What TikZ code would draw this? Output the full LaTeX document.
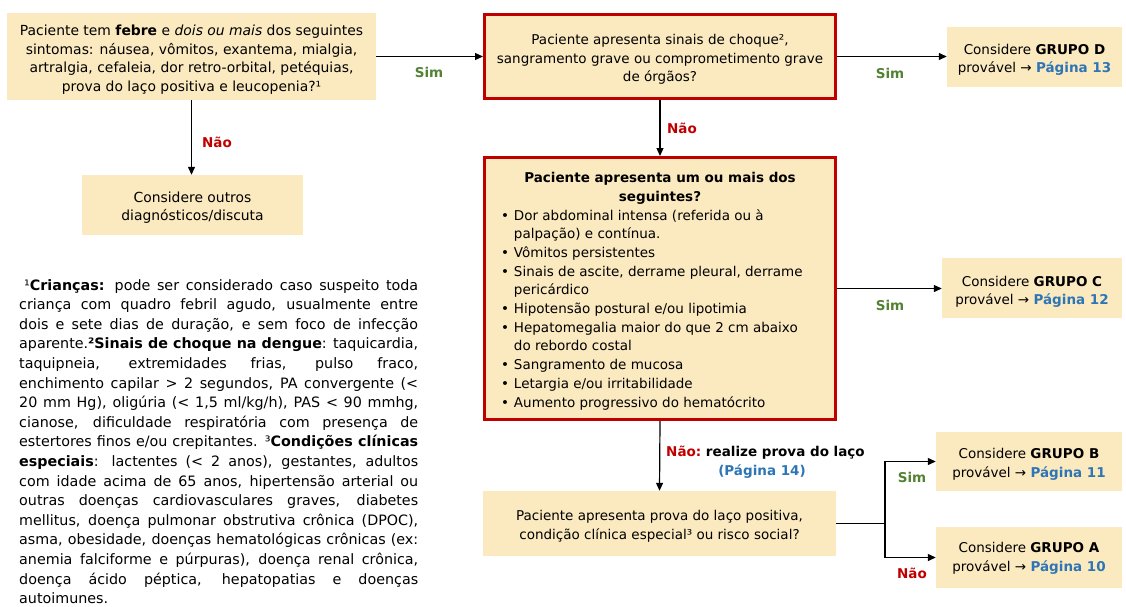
\documentclass[tikz,border=0pt]{standalone}
\usepackage{fontspec}
\setmainfont{DejaVu Sans}
\usetikzlibrary{arrows.meta}
\definecolor{boxfill}{RGB}{251,234,192}
\definecolor{redb}{RGB}{192,0,0}
\definecolor{greenl}{RGB}{84,130,53}
\definecolor{bluel}{RGB}{46,117,182}
\newcommand\myfs{\fontsize{13.5}{18.7}\selectfont}
\newcommand\bigfs{\fontsize{13.9}{18.8}\selectfont}
\newcommand\notefs{\fontsize{14.3}{19.6}\selectfont}
\newcommand\pg[1]{\textcolor{bluel}{\textbf{#1}}}
\newcommand\tup{\rule{0pt}{16pt}}
\begin{document}
\begin{tikzpicture}[x=1pt,y=-1pt,font=\myfs,
  ybox/.style={fill=boxfill,draw=none,inner sep=0pt,align=center},
  rbox/.style={ybox,draw=redb,line width=2.6pt},
  conn/.style={draw,line width=1.2pt,-{Triangle[length=8pt,width=7pt]}},
  plain/.style={draw,line width=1.2pt},
  lsim/.style={text=greenl,font=\myfs\bfseries,inner sep=0pt},
  lnao/.style={text=redb,font=\myfs\bfseries,inner sep=0pt}]
\useasboundingbox (0,0) rectangle (1126,606);
\fill[white] (0,0) rectangle (1126,606);

% boxes
\node[ybox,font=\bigfs,minimum width=369pt,minimum height=87pt] (q1) at (191.5,56.5)
 {\rule{0pt}{17pt}Paciente tem \textbf{febre} e \textit{dois ou mais} dos seguintes\\
  sintomas: náusea, vômitos, exantema, mialgia,\\
  artralgia, cefaleia, dor retro-orbital, petéquias,\\
  prova do laço positiva e leucopenia?¹};
\node[ybox,font=\bigfs,minimum width=221pt,minimum height=60pt] (outros) at (192.5,205)
 {\tup Considere outros\\ diagnósticos/discuta};
\node[rbox,minimum width=351.4pt,minimum height=84.4pt] (q2) at (660,56.5)
 {\tup Paciente apresenta sinais de choque²,\\
  sangramento grave ou comprometimento grave\\
  de órgãos?};
\node[ybox,minimum width=175pt,minimum height=60pt] (gD) at (1034.5,57)
 {\tup Considere \textbf{GRUPO D}\\ provável → \pg{Página 13}};
\node[rbox,minimum width=351.4pt,minimum height=262.4pt] (q3) at (660,288.5)
 {\parbox{318pt}{\vspace*{8pt}\centering\bfseries Paciente apresenta um ou mais dos\\ seguintes?\par
  \raggedright\mdseries
  \begin{tabular}[t]{@{}l@{\hspace{5pt}}l@{}}
  • & Dor abdominal intensa (referida ou à\\
    & palpação) e contínua.\\
  • & Vômitos persistentes\\
  • & Sinais de ascite, derrame pleural, derrame\\
    & pericárdico\\
  • & Hipotensão postural e/ou lipotimia\\
  • & Hepatomegalia maior do que 2 cm abaixo\\
    & do rebordo costal\\
  • & Sangramento de mucosa\\
  • & Letargia e/ou irritabilidade\\
  • & Aumento progressivo do hematócrito
  \end{tabular}}};
\node[ybox,minimum width=180pt,minimum height=60pt] (gC) at (1032,288)
 {\rule{0pt}{18pt}Considere \textbf{GRUPO C}\\ provável → \pg{Página 12}};
\node[ybox,minimum width=353pt,minimum height=65pt] (q4) at (659.5,523.5)
 {\tup Paciente apresenta prova do laço positiva,\\
  condição clínica especial³ ou risco social?};
\node[ybox,minimum width=186pt,minimum height=59pt] (gB) at (1029,461.5)
 {\tup Considere \textbf{GRUPO B}\\ provável → \pg{Página 11}};
\node[ybox,minimum width=186pt,minimum height=61pt] (gA) at (1029,557.5)
 {\rule{0pt}{12pt}Considere \textbf{GRUPO A}\\ provável → \pg{Página 10}};

% footnote
\node[anchor=north west,font=\notefs,text width=399pt,align=justify,inner sep=0pt] (fn) at (19,279)
 {\hspace*{5pt}¹\textbf{Crianças:} pode ser considerado caso suspeito toda\linebreak
  criança com quadro febril agudo, usualmente entre\linebreak
  dois e sete dias de duração, e sem foco de infecção\linebreak
  aparente.\textbf{²Sinais de choque na dengue}: taquicardia,\linebreak
  taquipneia, extremidades frias, pulso fraco,\linebreak
  enchimento capilar > 2 segundos, PA convergente (<\linebreak
  20 mm Hg), oligúria (< 1,5 ml/kg/h), PAS < 90 mmhg,\linebreak
  cianose, dificuldade respiratória com presença de\linebreak
  estertores finos e/ou crepitantes. ³\textbf{Condições clínicas\linebreak
  especiais}: lactentes (< 2 anos), gestantes, adultos\linebreak
  com idade acima de 65 anos, hipertensão arterial ou\linebreak
  outras doenças cardiovasculares graves, diabetes\linebreak
  mellitus, doença pulmonar obstrutiva crônica (DPOC),\linebreak
  asma, obesidade, doenças hematológicas crônicas (ex:\linebreak
  anemia falciforme e púrpuras), doença renal crônica,\linebreak
  doença ácido péptica, hepatopatias e doenças\linebreak
  autoimunes.};

% connectors
\draw[conn] (q1.east) -- (q2.west);
\node[lsim] (s1) at (429,72) {Sim};
\draw[conn] (q1.south) -- (q1.south |- outros.north);
\node[lnao] (n1) at (217,142) {Não};
\draw[conn] (q2.east) -- (q2.east -| gD.west);
\node[lsim] (s2) at (890,73) {Sim};
\draw[conn] (q2.south) -- (q3.north);
\node[lnao] (n2) at (682,128) {Não};
\draw[conn] (q3.east) -- (q3.east -| gC.west);
\node[lsim] (s3) at (890,305) {Sim};
\draw[conn] (q3.south) -- (q4.north);
\node[anchor=west,inner sep=0pt,font=\myfs\bfseries] (n3) at (666,453)
 {\textcolor{redb}{Não:}~realize prova do laço};
\node[inner sep=0pt,font=\myfs\bfseries,text=bluel] (p14) at (762,472) {(Página 14)};
\coordinate (br) at (885,523.5);
\draw[plain] (q4.east) -- (br);
\draw[conn] (br) |- (gB.west);
\draw[conn] (br) |- (gA.west);
\node[lsim] (s4) at (912,477) {Sim};
\node[lnao] (n4) at (912,573) {Não};
\end{tikzpicture}
\end{document}
